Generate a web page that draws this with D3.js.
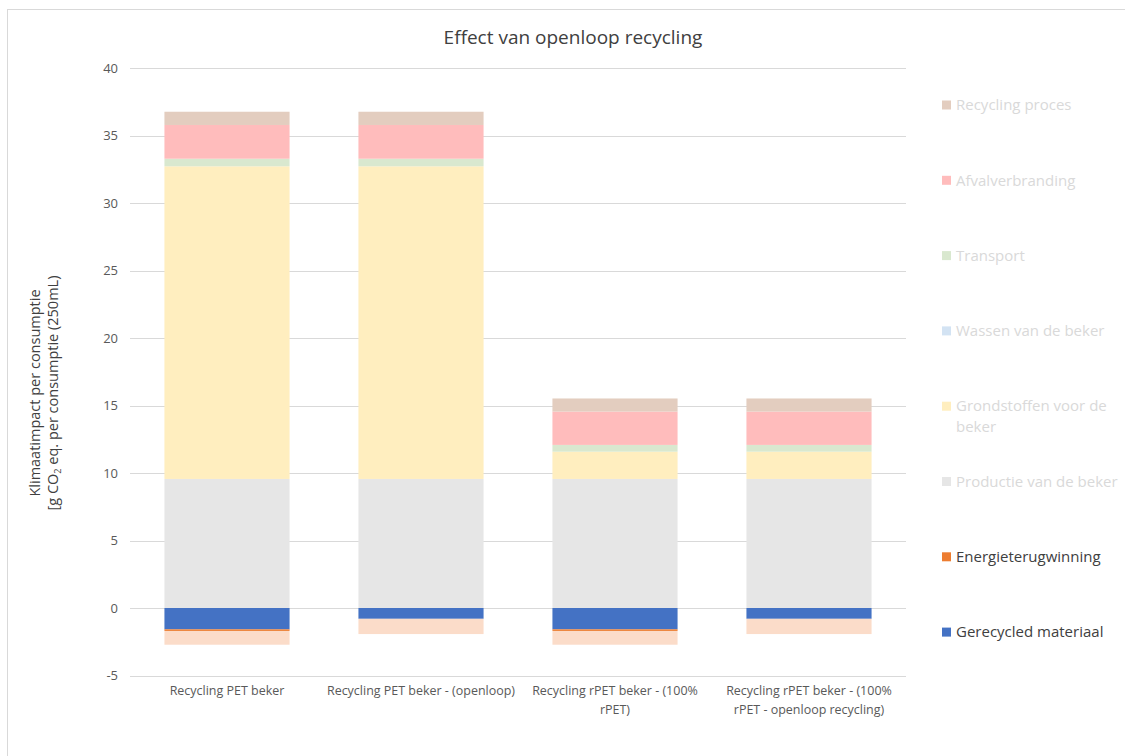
<!DOCTYPE html>
<html>
<head>
<meta charset="utf-8">
<script src="https://cdn.jsdelivr.net/npm/d3@7"></script>
<style>
  body { margin: 0; background: #fff; }
  svg { display: block; font-family: "Open Sans", "Liberation Sans", sans-serif; }
</style>
</head>
<body>
<svg id="chart" width="1125" height="756"></svg>
<script>
// data
var categories = [
  ["Recycling PET beker"],
  ["Recycling PET beker - (openloop)"],
  ["Recycling rPET beker - (100%", "rPET)"],
  ["Recycling rPET beker - (100%", "rPET - openloop recycling)"]
];
var productie    = [9.56, 9.56, 9.56, 9.56];
var grondstoffen = [23.16, 23.16, 2.02, 2.02];
var wassen       = [0, 0, 0, 0];
var transport    = [0.56, 0.56, 0.5, 0.5];
var afval        = [2.5, 2.5, 2.47, 2.47];
var recyclingProces = [0.98, 0.98, 0.97, 0.97];
var gerecycled   = [-1.58, -0.8, -1.58, -0.8];
var energie      = [-0.12, 0, -0.12, 0];
var energieRest  = [-1.02, -1.13, -1.02, -1.13];
var yTicks = [-5, 0, 5, 10, 15, 20, 25, 30, 35, 40];

var posSeries = [
  { name: "Productie van de beker", values: productie, color: "#e6e6e6" },
  { name: "Grondstoffen voor de beker", values: grondstoffen, color: "#ffeebf" },
  { name: "Wassen van de beker", values: wassen, color: "#d3e3f3" },
  { name: "Transport", values: transport, color: "#d9e8cf" },
  { name: "Afvalverbranding", values: afval, color: "#ffbcbc" },
  { name: "Recycling proces", values: recyclingProces, color: "#e3cdbf" }
];
var negSeries = [
  { name: "Gerecycled materiaal", values: gerecycled, color: "#4472c4" },
  { name: "Energieterugwinning", values: energie, color: "#ed7d31" },
  { name: "", values: energieRest, color: "#fbdcc9" }
];

var legendItems = [
  { name: ["Recycling proces"], color: "#e3cdbf", text: "#d9d9d9" },
  { name: ["Afvalverbranding"], color: "#ffbcbc", text: "#d9d9d9" },
  { name: ["Transport"], color: "#d9e8cf", text: "#d9d9d9" },
  { name: ["Wassen van de beker"], color: "#d3e3f3", text: "#d9d9d9" },
  { name: ["Grondstoffen voor de", "beker"], color: "#ffeebf", text: "#d9d9d9" },
  { name: ["Productie van de beker"], color: "#e6e6e6", text: "#d9d9d9" },
  { name: ["Energieterugwinning"], color: "#ed7d31", text: "#404040" },
  { name: ["Gerecycled materiaal"], color: "#4472c4", text: "#404040" }
];

var svg = d3.select("#chart");

// frame
svg.append("rect")
  .attr("x", 7.5).attr("y", 9.5)
  .attr("width", 1125).attr("height", 760)
  .attr("fill", "none").attr("stroke", "#d9d9d9");

var x = d3.scaleBand()
  .domain(d3.range(categories.length))
  .range([130, 906])
  .paddingInner(0.355)
  .paddingOuter(0.1775);

var y = d3.scaleLinear().domain([-5, 40]).range([675.5, 68]);

// grid
svg.append("g").selectAll("line")
  .data(yTicks)
  .enter().append("line")
  .attr("x1", 130).attr("x2", 906)
  .attr("y1", function(d){ return Math.round(y(d)) + 0.5; })
  .attr("y2", function(d){ return Math.round(y(d)) + 0.5; })
  .attr("stroke", "#d9d9d9")
  .attr("stroke-width", 1.2);

// y tick labels
svg.append("g").selectAll("text")
  .data(yTicks)
  .enter().append("text")
  .attr("x", 118)
  .attr("y", function(d){ return y(d); })
  .attr("dy", "0.35em")
  .attr("text-anchor", "end")
  .attr("font-size", 13)
  .attr("fill", "#595959")
  .text(function(d){ return d; });

// stacks
function drawStack(list, sign){
  var base = categories.map(function(){ return 0; });
  list.forEach(function(s){
    svg.append("g").selectAll("rect")
      .data(s.values)
      .enter().append("rect")
      .attr("x", function(d, i){ return x(i); })
      .attr("width", x.bandwidth())
      .attr("y", function(d, i){ return sign > 0 ? y(base[i] + d) : y(base[i]); })
      .attr("height", function(d){ return Math.abs(y(0) - y(d)); })
      .attr("fill", s.color)
      .each(function(d, i){ base[i] += d; });
  });
}
drawStack(posSeries, 1);
drawStack(negSeries, -1);

// category labels
svg.append("g").selectAll("text")
  .data(categories)
  .enter().append("text")
  .attr("transform", function(d, i){ return "translate(" + (x(i) + x.bandwidth() / 2) + ",695) scale(0.96,1)"; })
  .attr("text-anchor", "middle")
  .attr("font-size", 13)
  .attr("fill", "#595959")
  .selectAll("tspan")
  .data(function(d){ return d; })
  .enter().append("tspan")
  .attr("x", 0)
  .attr("y", function(d, k){ return k * 19; })
  .text(function(d){ return d; });

// title
svg.append("text")
  .attr("x", 573).attr("y", 44)
  .attr("text-anchor", "middle")
  .attr("font-size", 19)
  .attr("fill", "#404040")
  .text("Effect van openloop recycling");

// y axis title
var yt = svg.append("text")
  .attr("transform", "translate(40,393) rotate(-90)")
  .attr("text-anchor", "middle")
  .attr("font-size", 14.5)
  .attr("fill", "#404040");
yt.append("tspan").attr("x", 0).attr("y", 0).text("Klimaatimpact per consumptie");
var l2 = yt.append("tspan").attr("x", 0).attr("y", 18);
l2.append("tspan").text("[g CO");
l2.append("tspan").attr("font-size", 9).attr("dy", 3).text("2");
l2.append("tspan").attr("dy", -3).text(" eq. per consumptie (250mL)");

// legend
var lg = svg.append("g").selectAll("g")
  .data(legendItems)
  .enter().append("g")
  .attr("transform", function(d, i){ return "translate(942," + (105 + i * 75.3) + ")"; });
lg.append("rect")
  .attr("x", 0).attr("y", -4.5)
  .attr("width", 9).attr("height", 9)
  .attr("fill", function(d){ return d.color; });
lg.append("text")
  .attr("font-size", 15)
  .attr("fill", function(d){ return d.text; })
  .selectAll("tspan")
  .data(function(d){ return d.name; })
  .enter().append("tspan")
  .attr("x", 14)
  .attr("y", function(d, k){ return k * 21; })
  .attr("dy", "0.35em")
  .text(function(d){ return d; });
</script>
</body>
</html>
